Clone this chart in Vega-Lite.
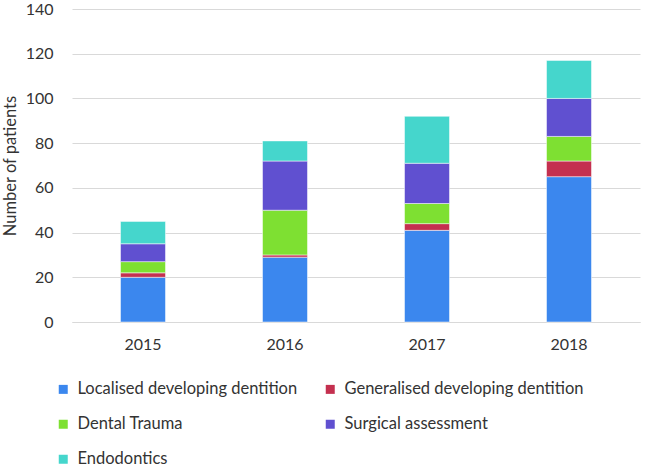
{
  "$schema": "https://vega.github.io/schema/vega-lite/v6.json",
  "width": 568,
  "height": 313,
  "autosize": {"type": "none"},
  "padding": {"left": 72, "top": 9, "right": 6, "bottom": 147},
  "background": "white",
  "config": {
    "view": {"stroke": null},
    "font": "Lato",
    "axis": {"labelFont": "Lato", "titleFont": "Lato"},
    "legend": {"labelFont": "Lato"}
  },
  "data": {
    "values": [
      {"year": "2015", "category": "Localised developing dentition", "ord": 1, "patients": 20},
      {"year": "2015", "category": "Generalised developing dentition", "ord": 2, "patients": 2},
      {"year": "2015", "category": "Dental Trauma", "ord": 3, "patients": 5},
      {"year": "2015", "category": "Surgical assessment", "ord": 4, "patients": 8},
      {"year": "2015", "category": "Endodontics", "ord": 5, "patients": 10},
      {"year": "2016", "category": "Localised developing dentition", "ord": 1, "patients": 29},
      {"year": "2016", "category": "Generalised developing dentition", "ord": 2, "patients": 1},
      {"year": "2016", "category": "Dental Trauma", "ord": 3, "patients": 20},
      {"year": "2016", "category": "Surgical assessment", "ord": 4, "patients": 22},
      {"year": "2016", "category": "Endodontics", "ord": 5, "patients": 9},
      {"year": "2017", "category": "Localised developing dentition", "ord": 1, "patients": 41},
      {"year": "2017", "category": "Generalised developing dentition", "ord": 2, "patients": 3},
      {"year": "2017", "category": "Dental Trauma", "ord": 3, "patients": 9},
      {"year": "2017", "category": "Surgical assessment", "ord": 4, "patients": 18},
      {"year": "2017", "category": "Endodontics", "ord": 5, "patients": 21},
      {"year": "2018", "category": "Localised developing dentition", "ord": 1, "patients": 65},
      {"year": "2018", "category": "Generalised developing dentition", "ord": 2, "patients": 7},
      {"year": "2018", "category": "Dental Trauma", "ord": 3, "patients": 11},
      {"year": "2018", "category": "Surgical assessment", "ord": 4, "patients": 17},
      {"year": "2018", "category": "Endodontics", "ord": 5, "patients": 17}
    ]
  },
  "mark": {"type": "bar", "width": 45, "stroke": "white", "strokeWidth": 0.5},
  "encoding": {
    "x": {
      "field": "year", "type": "nominal", "title": null,
      "scale": {"paddingInner": 0, "paddingOuter": 0},
      "axis": {"labelAngle": 0, "labelFontSize": 16, "labelColor": "#333333", "ticks": false, "domainColor": "#d9d9d9", "labelPadding": 14, "grid": false}
    },
    "y": {
      "field": "patients", "type": "quantitative", "aggregate": "sum", "stack": "zero",
      "title": "Number of patients",
      "scale": {"domain": [0, 140]},
      "axis": {"values": [0, 20, 40, 60, 80, 100, 120, 140], "labelFontSize": 16, "labelColor": "#333333", "ticks": false, "domain": false, "gridColor": "#d9d9d9", "labelPadding": 19, "titleFontSize": 16.5, "titleFontWeight": "normal", "titleColor": "#333333", "titlePadding": 7}
    },
    "color": {
      "field": "category", "type": "nominal",
      "scale": {
        "domain": ["Localised developing dentition", "Generalised developing dentition", "Dental Trauma", "Surgical assessment", "Endodontics"],
        "range": ["#3b87ee", "#c4304f", "#7ee032", "#6050d0", "#45d6cc"]
      },
      "legend": {
        "title": null, "orient": "none", "direction": "horizontal", "legendX": -17, "legendY": 372,
        "columns": 2, "symbolType": "square", "symbolSize": 81, "symbolStrokeWidth": 0,
        "labelFontSize": 16.5, "labelColor": "#333333", "rowPadding": 18, "columnPadding": 24, "labelOffset": 6, "labelLimit": 300
      }
    },
    "order": {"field": "ord", "type": "quantitative", "sort": "ascending"}
  }
}
